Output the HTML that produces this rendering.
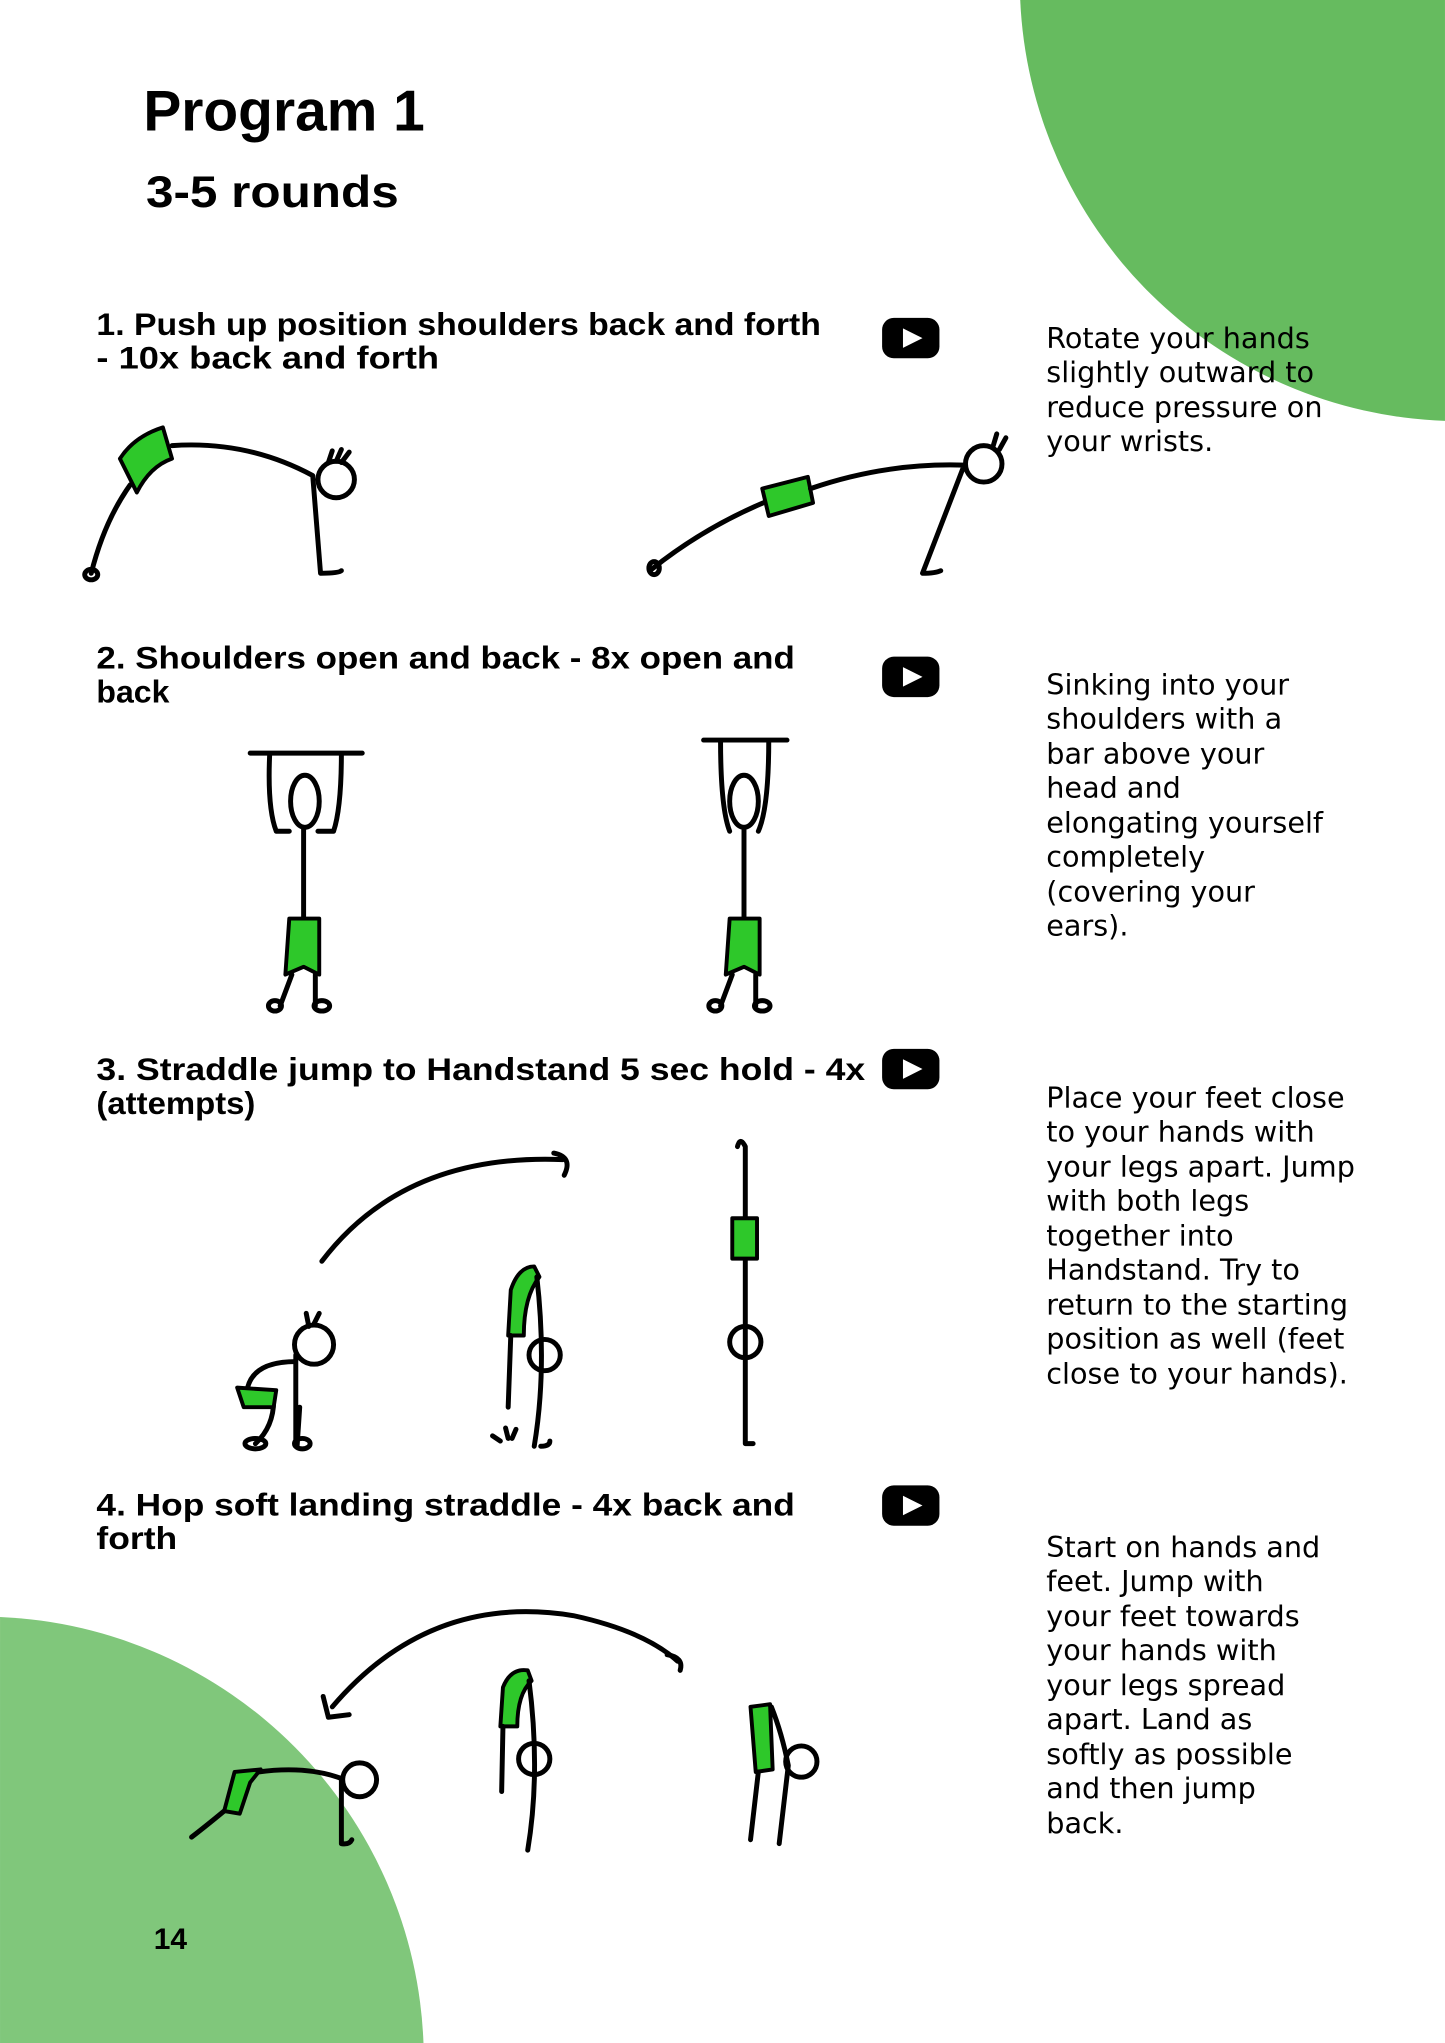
<!DOCTYPE html>
<html><head><meta charset="utf-8"><style>
html,body{margin:0;padding:0;background:#fff;width:1445px;height:2043px;overflow:hidden;}
svg{display:block;overflow:hidden;}
.h{font-family:"Liberation Sans",sans-serif;font-weight:bold;fill:#000;}
.t{font-family:"DejaVu Sans","Liberation Sans",sans-serif;font-size:22px;fill:#000;}
.k{fill:none;stroke:#000;stroke-width:3.8;stroke-linecap:round;stroke-linejoin:round;}
.g{fill:#2ec82a;stroke:#000;stroke-width:3;stroke-linejoin:round;}
</style></head><body>
<svg width="1445" height="2043" viewBox="0 0 1109 1568" xmlns="http://www.w3.org/2000/svg">
<path d="M783,0 A338,338 0 0 0 1109,323 L1109,0Z" fill="#66bb5f"/>
<path d="M0,1241 A340,340 0 0 1 325,1568 L0,1568Z" fill="#80c77b"/>

<text class="h" x="110" y="100" font-size="44" textLength="216" lengthAdjust="spacingAndGlyphs">Program 1</text>
<text class="h" x="112" y="159" font-size="34" textLength="194" lengthAdjust="spacingAndGlyphs">3-5 rounds</text>

<g class="h" font-size="24">
<text x="74" y="257" textLength="556" lengthAdjust="spacingAndGlyphs">1. Push up position shoulders back and forth</text>
<text x="74" y="283" textLength="263" lengthAdjust="spacingAndGlyphs">- 10x back and forth</text>
<text x="74" y="513" textLength="536" lengthAdjust="spacingAndGlyphs">2. Shoulders open and back - 8x open and</text>
<text x="74" y="539" textLength="56" lengthAdjust="spacingAndGlyphs">back</text>
<text x="74" y="829" textLength="590" lengthAdjust="spacingAndGlyphs">3. Straddle jump to Handstand 5 sec hold - 4x</text>
<text x="74" y="855" textLength="122" lengthAdjust="spacingAndGlyphs">(attempts)</text>
<text x="74" y="1163" textLength="536" lengthAdjust="spacingAndGlyphs">4. Hop soft landing straddle - 4x back and</text>
<text x="74" y="1189" textLength="62" lengthAdjust="spacingAndGlyphs">forth</text>
<text x="118" y="1496" font-size="23">14</text>
</g>

<g>
<rect x="677" y="244" width="44" height="31" rx="9" fill="#000"/><path d="M693,252 L708,259.5 L693,267Z" fill="#fff"/>
<rect x="677" y="504" width="44" height="31" rx="9" fill="#000"/><path d="M693,512 L708,519.5 L693,527Z" fill="#fff"/>
<rect x="677" y="805" width="44" height="31" rx="9" fill="#000"/><path d="M693,813 L708,820.5 L693,828Z" fill="#fff"/>
<rect x="677" y="1140" width="44" height="31" rx="9" fill="#000"/><path d="M693,1148 L708,1155.5 L693,1163Z" fill="#fff"/>
</g>

<g class="t">
<text x="803" y="267">Rotate your hands</text>
<text x="803" y="293">slightly outward to</text>
<text x="803" y="320">reduce pressure on</text>
<text x="803" y="346">your wrists.</text>

<text x="803" y="533">Sinking into your</text>
<text x="803" y="559">shoulders with a</text>
<text x="803" y="586">bar above your</text>
<text x="803" y="612">head and</text>
<text x="803" y="639">elongating yourself</text>
<text x="803" y="665">completely</text>
<text x="803" y="692">(covering your</text>
<text x="803" y="718">ears).</text>

<text x="803" y="850">Place your feet close</text>
<text x="803" y="876">to your hands with</text>
<text x="803" y="903">your legs apart. Jump</text>
<text x="803" y="929">with both legs</text>
<text x="803" y="956">together into</text>
<text x="803" y="982">Handstand. Try to</text>
<text x="803" y="1009">return to the starting</text>
<text x="803" y="1035">position as well (feet</text>
<text x="803" y="1062">close to your hands).</text>

<text x="803" y="1195">Start on hands and</text>
<text x="803" y="1221">feet. Jump with</text>
<text x="803" y="1248">your feet towards</text>
<text x="803" y="1274">your hands with</text>
<text x="803" y="1301">your legs spread</text>
<text x="803" y="1327">apart. Land as</text>
<text x="803" y="1354">softly as possible</text>
<text x="803" y="1380">and then jump</text>
<text x="803" y="1407">back.</text>
</g>

<path class="k" d="M70,440 Q80,400 100,372"/>
<path class="g" d="M92,352 Q103,335 125,328 L132,352 Q115,358 105,378Z"/>
<path class="k" d="M132,342 Q190,338 240,365 L246,440 M246,440 Q260,440 262,438"/>
<circle class="k" cx="258" cy="368" r="14"/>
<path class="k" d="M252,355 L255,346 M258,354 L262,345 M262,355 L268,347"/>
<ellipse cx="70" cy="441" rx="5" ry="4" class="k"/>

<path class="k" d="M500,437 Q540,405 588,385"/>
<path class="g" d="M585,375 L620,366 L624,386 L590,396Z"/>
<path class="k" d="M622,375 Q680,355 740,357 L708,440 Q718,440 722,438"/>
<circle class="k" cx="755" cy="356" r="14"/>
<path class="k" d="M762,343 L765,333 M767,345 L772,336"/>
<ellipse cx="502" cy="436" rx="4" ry="5" class="k"/>

<path class="k" d="M192,578 L278,578 M207,578 Q205,620 212,638 L222,638 M262,578 Q262,620 256,638 L244,638"/>
<ellipse class="k" cx="234" cy="615" rx="11" ry="20"/>
<path class="k" d="M233,635 L233,705 M224,748 L215,772 M242,748 L242,772"/>
<path class="g" d="M222,705 L245,705 L245,748 L233,742 L219,748Z"/>
<ellipse class="k" cx="211" cy="772" rx="5" ry="4"/><ellipse class="k" cx="247" cy="772" rx="6" ry="4"/>

<path class="k" d="M540,568 L604,568 M553,568 Q553,620 560,638 M590,568 Q590,620 582,638"/>
<ellipse class="k" cx="571" cy="615" rx="11" ry="20"/>
<path class="k" d="M571,635 L571,705 M562,748 L553,772 M580,748 L580,772"/>
<path class="g" d="M560,705 L583,705 L583,748 L571,742 L557,748Z"/>
<ellipse class="k" cx="549" cy="772" rx="5" ry="4"/><ellipse class="k" cx="585" cy="772" rx="6" ry="4"/>

<path class="k" d="M247,968 Q310,885 432,890" stroke-width="4.5"/>
<path class="k" d="M425,885 Q440,888 433,902" stroke-width="4.5"/>
<circle class="k" cx="241" cy="1032" r="15"/>
<path class="k" d="M227,1040 L227,1110 M227,1045 Q195,1045 190,1065 M230,1080 L228,1110 M210,1075 Q210,1095 196,1108"/>
<path class="g" d="M182,1065 L212,1067 L210,1080 L187,1080Z"/>
<path class="k" d="M237,1018 L235,1008 M241,1016 L245,1008"/>
<ellipse class="k" cx="196" cy="1108" rx="8" ry="4"/><ellipse class="k" cx="232" cy="1108" rx="6" ry="4"/>
<path class="g" d="M390,1025 L392,990 Q398,972 410,972 L414,980 Q402,995 402,1025Z"/>
<path class="k" d="M412,980 Q420,1050 410,1110 M392,1025 L390,1080 M415,1110 Q422,1110 422,1106"/>
<circle class="k" cx="418" cy="1040" r="12"/>
<path class="k" d="M378,1102 L384,1106 M388,1096 L390,1104 M396,1097 L393,1104"/>
<path class="k" d="M572,890 L572,1108 M566,880 Q568,872 572,880 L572,890 M572,1108 L578,1108"/>
<path class="g" d="M562,935 L581,935 L581,966 L562,966Z"/>
<circle class="k" cx="572" cy="1030" r="12"/>

<path class="k" d="M255,1310 Q330,1222 440,1240 Q495,1252 520,1275" stroke-width="4.5"/>
<path class="k" d="M248,1302 L252,1318 L268,1316" stroke-width="4.5"/>
<path class="k" d="M512,1270 Q525,1272 522,1282" stroke-width="5"/>
<path class="k" d="M147,1410 Q160,1400 178,1385"/>
<path class="g" d="M172,1390 L180,1360 L200,1358 L192,1368 L184,1392Z"/>
<path class="k" d="M198,1360 Q235,1355 262,1365 L262,1415 Q268,1416 270,1412"/>
<circle class="k" cx="276" cy="1366" r="13"/>
<path class="g" d="M384,1325 L386,1295 Q392,1280 405,1282 L408,1290 Q397,1300 397,1325Z"/>
<path class="k" d="M406,1290 Q415,1360 405,1420 M386,1325 L385,1375"/>
<circle class="k" cx="410" cy="1350" r="12"/>
<path class="g" d="M576,1310 L591,1308 L593,1358 L580,1360Z"/>
<path class="k" d="M592,1310 Q600,1330 605,1355 L598,1415 M582,1360 L576,1412"/>
<circle class="k" cx="615" cy="1352" r="12"/>
</svg>
</body></html>
